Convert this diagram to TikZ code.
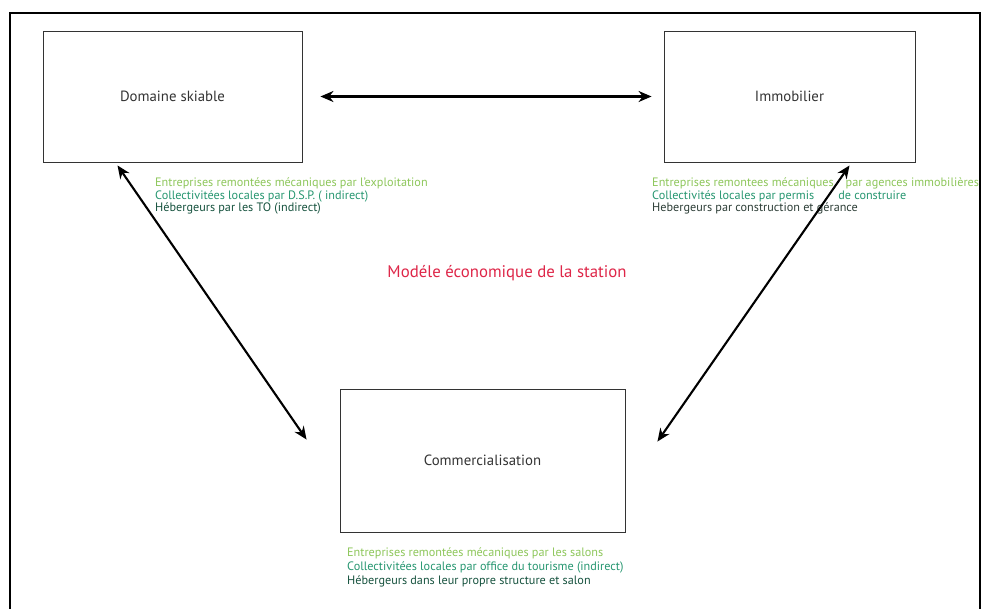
\documentclass[tikz,border=0pt]{standalone}
\usepackage{fontspec}
\setmainfont{PT Sans}
\usetikzlibrary{positioning,arrows.meta}
\definecolor{vertclair}{RGB}{141,198,90}
\definecolor{vertmoyen}{RGB}{38,150,112}
\definecolor{vertfonce}{RGB}{22,82,62}
\definecolor{grisvert}{RGB}{45,62,55}
\definecolor{rouge}{RGB}{222,38,72}
\tikzset{
	pole/.style={draw=black!80, line width=0.9pt, rectangle, inner sep=0pt, text=black!80, font=\fontsize{14.8}{17}\selectfont},
	fleche/.style={line width=2.1pt, {Stealth[length=13pt,width=11pt]}-{Stealth[length=13pt,width=11pt]}},
	ligne/.style={anchor=base west, inner sep=0pt, font=\fontsize{12.2}{14}\selectfont}
}

\begin{document}
\begin{tikzpicture}[x=1pt,y=-1pt]
	\useasboundingbox (0,0) rectangle (981,609);
	\draw[line width=2pt] (10,612) -- (10,13) -- (979.5,13) -- (979.5,612);

		\node[pole, minimum width=259pt, minimum height=131pt] (dom) at (172.5,96.5){Domaine skiable};
		\node[pole, minimum width=251pt, minimum height=131pt] (imm) at (789.5,96.5){Immobilier};
		\node[pole, minimum width=285pt, minimum height=143pt] (com) at (482.5,460.5){Commercialisation};

	\node[text=rouge, font=\fontsize{16.8}{19}\selectfont] (titre) at (507,273){Modéle économique de la station};

	\node[ligne, text=vertclair] (d1) at (155,187){Entreprises remontées mécaniques par l'exploitation};
	\node[ligne, text=vertmoyen] (d2) at (155,199.5){Collectivitées locales par D.S.P. ( indirect)};
	\node[ligne, text=vertfonce] (d3) at (155,212){Hébergeurs par les TO (indirect)};

	\node[ligne, text=vertclair] (i1) at (652,187){Entreprises remontees mécaniques\hspace{12pt}par agences immobilières};
	\node[ligne, text=vertmoyen] (i2) at (652,199.5){Collectivités locales par permis\hspace{24pt}de construire};
	\node[ligne, text=grisvert] (i3) at (652,212){Hebergeurs par construction et gérance};

	\node[ligne, text=vertclair] (c1) at (347,556){Entreprises remontées mécaniques par les salons};
	\node[ligne, text=vertmoyen] (c2) at (347,570){Collectivitées locales par office du tourisme (indirect)};
	\node[ligne, text=vertfonce] (c3) at (347,584){Hébergeurs dans leur propre structure et salon};

		\draw[fleche, shorten <=18pt, shorten >=12pt] (dom) -- (imm);
		\draw[fleche] ([xshift=-55pt,yshift=-3pt]dom.south) -- ([xshift=-33pt,yshift=-51pt]com.north west);
		\draw[fleche] ([xshift=60pt,yshift=-3pt]imm.south) -- ([xshift=32pt,yshift=-53pt]com.north east);

\end{tikzpicture}
\end{document}
